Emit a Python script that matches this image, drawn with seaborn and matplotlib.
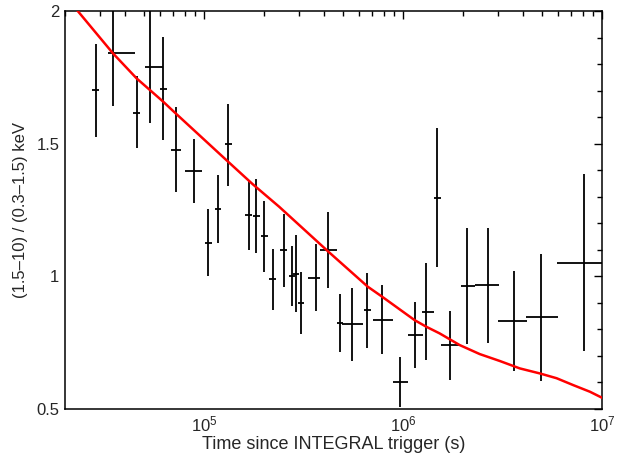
import numpy as np
import pandas as pd
import matplotlib
matplotlib.use("Agg")
import matplotlib.pyplot as plt
import matplotlib.ticker as mticker
import seaborn as sns

# ---- data ----
t = [2.85e4, 3.48e4, 4.58e4, 5.35e4, 6.24e4, 7.20e4, 8.90e4, 1.048e5, 1.176e5,
     1.321e5, 1.68e5, 1.828e5, 2.006e5, 2.209e5, 2.508e5, 2.766e5, 2.897e5,
     3.07e5, 3.637e5, 4.214e5, 4.826e5, 5.548e5, 6.624e5, 7.821e5, 9.6e5,
     1.143e6, 1.309e6, 1.487e6, 1.715e6, 2.096e6, 2.675e6, 3.603e6, 4.912e6,
     8.115e6]
t_lo = [2.74e4, 3.283e4, 4.40e4, 5.027e4, 6.00e4, 6.79e4, 8.02e4, 1.008e5, 1.131e5,
        1.27e5, 1.615e5, 1.758e5, 1.929e5, 2.124e5, 2.411e5, 2.66e5, 2.786e5,
        2.952e5, 3.341e5, 3.827e5, 4.64e5, 4.957e5, 6.37e5, 7.046e5, 8.884e5,
        1.057e6, 1.25e6, 1.43e6, 1.557e6, 1.964e6, 2.292e6, 3.003e6, 4.141e6,
        5.955e6]
t_hi = [2.96e4, 4.476e4, 4.76e4, 6.216e4, 6.49e4, 7.63e4, 9.80e4, 1.09e5, 1.223e5,
        1.374e5, 1.747e5, 1.901e5, 2.086e5, 2.297e5, 2.608e5, 2.877e5, 3.013e5,
        3.193e5, 3.827e5, 4.661e5, 5.02e5, 6.324e5, 6.89e5, 8.884e5, 1.057e6,
        1.259e6, 1.425e6, 1.546e6, 1.925e6, 2.292e6, 3.027e6, 4.176e6, 5.982e6,
        1.1e7]
ratio = [1.702, 1.842, 1.617, 1.789, 1.707, 1.476, 1.397, 1.127, 1.255, 1.498,
         1.230, 1.228, 1.152, 0.989, 1.099, 1.002, 1.009, 0.899, 0.995, 1.099,
         0.825, 0.820, 0.872, 0.835, 0.603, 0.779, 0.867, 1.296, 0.741, 0.965,
         0.967, 0.832, 0.845, 1.051]
ratio_hi = [1.876, 2.05, 1.756, 2.05, 1.903, 1.638, 1.518, 1.254, 1.382, 1.649,
            1.363, 1.367, 1.285, 1.102, 1.235, 1.115, 1.156, 1.017, 1.121, 1.241,
            0.933, 0.957, 1.011, 0.966, 0.697, 0.902, 1.049, 1.558, 0.869, 1.183,
            1.183, 1.020, 1.083, 1.384]
ratio_lo = [1.526, 1.642, 1.484, 1.578, 1.514, 1.318, 1.277, 1.002, 1.127, 1.340,
            1.099, 1.089, 1.016, 0.873, 0.961, 0.888, 0.864, 0.781, 0.868, 0.957,
            0.716, 0.682, 0.729, 0.706, 0.508, 0.653, 0.685, 1.036, 0.609, 0.745,
            0.750, 0.643, 0.607, 0.718]

model_t = [2.0e4, 2.318e4, 3.479e4, 4.581e4, 6.237e4, 7.06e4, 1.321e5, 1.751e5,
           2.387e5, 4.214e5, 6.647e5, 7.858e5, 1.143e6, 1.309e6, 1.527e6,
           1.926e6, 2.429e6, 3.063e6, 3.863e6, 4.872e6, 5.913e6, 7.17e6,
           8.7e6, 1.015e7]
model_ratio = [2.07, 2.0, 1.841, 1.746, 1.658, 1.620, 1.432, 1.348, 1.262,
               1.093, 0.961, 0.923, 0.835, 0.810, 0.785, 0.741, 0.707, 0.681,
               0.653, 0.634, 0.616, 0.590, 0.565, 0.540]

x_ticks = [1e5, 1e6, 1e7]
y_ticks = [0.5, 1.0, 1.5, 2.0]
y_tick_labels = ["0.5", "1", "1.5", "2"]

# ---- styling ----
sns.set_theme(style="white")
plt.rcParams["font.family"] = ["Liberation Sans", "DejaVu Sans"]
plt.rcParams["mathtext.fontset"] = "custom"
plt.rcParams["mathtext.rm"] = "Liberation Sans"
plt.rcParams["mathtext.it"] = "Liberation Sans"

fig = plt.figure(figsize=(6.17, 4.58), dpi=100)
ax = fig.add_axes([65 / 617, 1 - 409 / 458, (602 - 65) / 617, (409 - 11) / 458])

df = pd.DataFrame({"t": model_t, "ratio": model_ratio})
sns.lineplot(data=df, x="t", y="ratio", ax=ax, color="#ff0000", lw=1.8,
             zorder=3, estimator=None, sort=False)

t_arr = np.array(t)
r_arr = np.array(ratio)
xerr = [t_arr - np.array(t_lo), np.array(t_hi) - t_arr]
yerr = [r_arr - np.array(ratio_lo), np.array(ratio_hi) - r_arr]
ax.errorbar(t_arr, r_arr, xerr=xerr, yerr=yerr, fmt="none", ecolor="black",
            elinewidth=1.3, capsize=0, zorder=2)

ax.set_xscale("log")
ax.set_xlim(2e4, 1e7)
ax.set_ylim(0.5, 2.0)

ax.set_xticks(x_ticks)
ax.xaxis.set_major_formatter(mticker.LogFormatterMathtext())
ax.xaxis.set_minor_locator(mticker.LogLocator(base=10, subs=np.arange(2, 10)))
ax.xaxis.set_minor_formatter(mticker.NullFormatter())
ax.set_yticks(y_ticks)
ax.set_yticklabels(y_tick_labels)
ax.yaxis.set_minor_locator(mticker.MultipleLocator(0.1))

ax.tick_params(which="both", direction="in", top=True, right=True,
               color="black", labelsize=12, width=1.0)
ax.tick_params(which="major", length=6, pad=4)
ax.tick_params(which="minor", length=3.5)
for s in ax.spines.values():
    s.set_color("black")
    s.set_linewidth(1.1)

ax.set_xlabel("Time since INTEGRAL trigger (s)", fontsize=13, labelpad=1)
ax.set_ylabel("(1.5\u201310) / (0.3\u20131.5) keV", fontsize=12, labelpad=6)

fig.savefig("out.png", dpi=100)
